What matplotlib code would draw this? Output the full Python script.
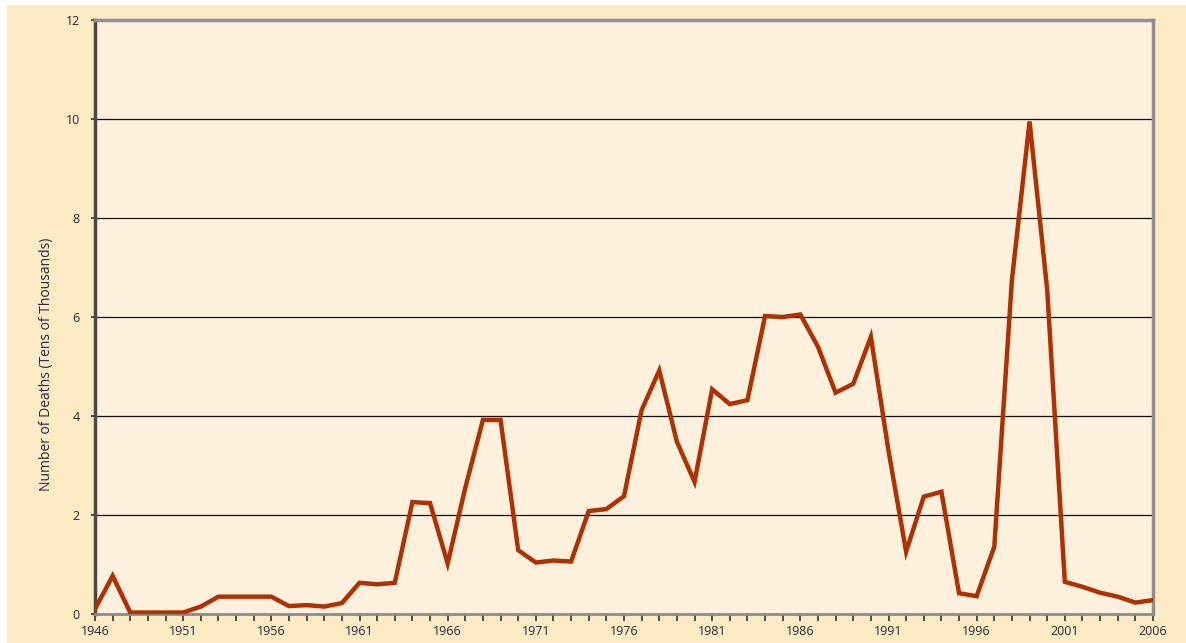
import numpy as np
import matplotlib.pyplot as plt
from matplotlib.patches import Rectangle
from matplotlib.ticker import MultipleLocator

plt.rcParams['font.family'] = ['Open Sans', 'DejaVu Sans']

years = list(range(1946, 2007))
deaths = [0.1, 0.77, 0.03, 0.03, 0.03, 0.03, 0.15, 0.35, 0.35, 0.35,
          0.35, 0.16, 0.18, 0.15, 0.22, 0.63, 0.6, 0.63, 2.26, 2.24,
          1.02, 2.55, 3.92, 3.92, 1.29, 1.04, 1.08, 1.06, 2.08, 2.12,
          2.38, 4.12, 4.92, 3.48, 2.67, 4.54, 4.24, 4.32, 6.02, 6.0,
          6.05, 5.4, 4.47, 4.65, 5.6, 3.3, 1.26, 2.37, 2.47, 0.42,
          0.36, 1.36, 6.75, 9.95, 6.55, 0.65, 0.55, 0.43, 0.35, 0.23,
          0.28]
label_years = [1946, 1951, 1956, 1961, 1966, 1971, 1976, 1981, 1986, 1991, 1996, 2001, 2006]
y_ticks = [0, 2, 4, 6, 8, 10, 12]

fig = plt.figure(figsize=(11.86, 6.43), dpi=100)
fig.patch.set_facecolor('white')
fig.patches.append(Rectangle((7/1186, 0), 1, 1 - 5/643, transform=fig.transFigure,
                             facecolor='#fdebc4', edgecolor='none', zorder=-10))

ax = fig.add_axes([95/1186, 29/643, 1058/1186, 594/643])
ax.set_facecolor('#fdf0dc')

# horizontal grid lines
for y in y_ticks[1:-1]:
    ax.axhline(y, color='#111111', lw=0.9, zorder=1)

ax.plot(years, deaths, color='#b03000', lw=3.2, solid_joinstyle='miter', zorder=3)

ax.set_xlim(1946, 2006)
ax.set_ylim(0, 12)
ax.set_xticks(label_years)
ax.xaxis.set_minor_locator(MultipleLocator(1))
ax.set_yticks(y_ticks)
ax.tick_params(axis='x', which='both', direction='out', length=5, width=1.2,
               color='#333333', labelsize=9, labelcolor='#2a2545', pad=3)
ax.tick_params(axis='y', direction='out', length=3, width=1.2, color='#333333',
               labelsize=9, labelcolor='#2a2545', pad=8)

ax.spines['left'].set_color('#4a4a4a')
ax.spines['left'].set_linewidth(2.5)
ax.spines['bottom'].set_color('#8a8a8a')
ax.spines['bottom'].set_linewidth(2)
for s in ['top', 'right']:
    ax.spines[s].set_color('#8f8f8f')
    ax.spines[s].set_linewidth(2.5)

ax.set_ylabel('Number of Deaths (Tens of Thousands)', fontsize=10, color='#2a2545')
ax.yaxis.set_label_coords(-0.039, 0.42)

fig.savefig('out.png', dpi=100, facecolor=fig.get_facecolor())
